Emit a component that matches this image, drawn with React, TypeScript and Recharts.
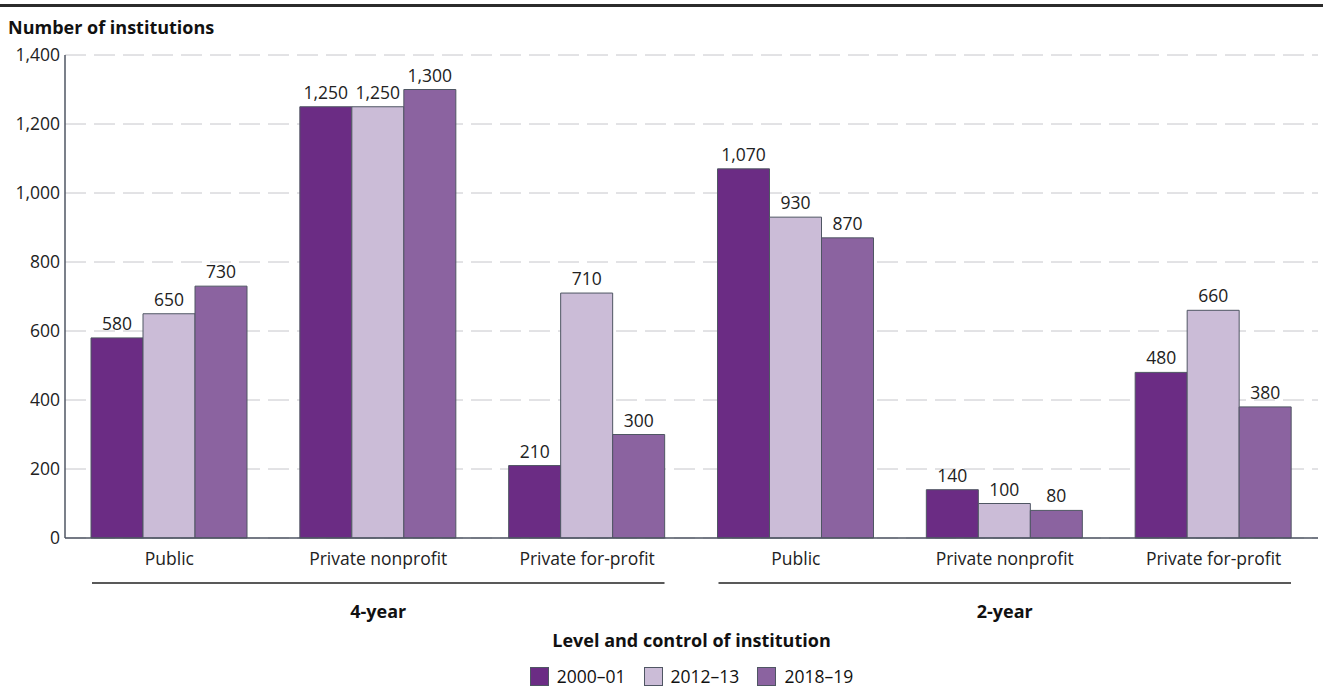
import React from 'react';
import { BarChart, Bar, XAxis, YAxis, CartesianGrid, Legend, LabelList } from 'recharts';

// Institutions by level and control, three academic years
const controls = ['Public', 'Private nonprofit', 'Private for-profit', 'Public', 'Private nonprofit', 'Private for-profit'];
const levels = ['4-year', '4-year', '4-year', '2-year', '2-year', '2-year'];
const y2000 = [580, 1250, 210, 1070, 140, 480];
const y2012 = [650, 1250, 710, 930, 100, 660];
const y2018 = [730, 1300, 300, 870, 80, 380];
const yTicks = [0, 200, 400, 600, 800, 1000, 1200, 1400];

const seriesInfo = [
  { key: 'y2000', name: '2000–01', color: '#6b2c84' },
  { key: 'y2012', name: '2012–13', color: '#cbbcd7' },
  { key: 'y2018', name: '2018–19', color: '#8b63a0' },
];

const data = controls.map((c, i) => ({
  control: c,
  level: levels[i],
  y2000: y2000[i],
  y2012: y2012[i],
  y2018: y2018[i],
}));

const W = 1323;
const H = 686;
const M = { top: 55, right: 5, bottom: 0, left: 0 };
const Y_AXIS_W = 65;
const CAT_GAP = 26;
const LEGEND_H = 20;
const FONT = '"Open Sans", sans-serif';
const FS = 17.5;
const STROKE = '#4f5663';

const plotW = W - M.left - M.right - Y_AXIS_W;
const groupHalf = plotW / 4 - CAT_GAP - 1;

const fmt = (v: any) => Number(v).toLocaleString('en-US');

const GroupTick = (props: any) => {
  const { x, y, payload } = props;
  return (
    <g>
      <line x1={x - groupHalf} x2={x + groupHalf} y1={y + 5} y2={y + 5} stroke="#222" strokeWidth={1.5} />
      <text x={x} y={y + 33} textAnchor="middle" dominantBaseline="central" fontFamily={FONT} fontSize={18} fontWeight={700} fill="#111">
        {payload.value}
      </text>
    </g>
  );
};

// axis title sits under the level labels
const AxisTitle = (props: any) => {
  const { viewBox } = props;
  return (
    <text x={viewBox.x + viewBox.width / 2} y={viewBox.y + 62} textAnchor="middle" dominantBaseline="central" fontFamily={FONT} fontSize={18} fontWeight={700} fill="#111">
      Level and control of institution
    </text>
  );
};

const LegendBox = () => (
  <div style={{ paddingLeft: M.left + Y_AXIS_W, paddingRight: M.right, fontFamily: FONT, color: '#111' }}>
    <div style={{ display: 'flex', justifyContent: 'center', alignItems: 'center', height: LEGEND_H }}>
      {seriesInfo.map((s) => (
        <div key={s.key} style={{ display: 'flex', alignItems: 'center', margin: '0 9px' }}>
          <span style={{ width: 19, height: 19, background: s.color, border: `1px solid ${STROKE}`, boxSizing: 'border-box', display: 'inline-block', marginRight: 8 }} />
          <span style={{ fontSize: FS }}>{s.name}</span>
        </div>
      ))}
    </div>
  </div>
);

export default function App() {
  return (
    <div style={{ position: 'relative', width: W, height: H, background: '#fff' }}>
      <style>{'body{margin:0}'}</style>
      <div style={{ position: 'absolute', left: 0, top: 4, width: W, height: 3, background: '#2b2b2b' }} />
      <div style={{ position: 'absolute', left: 8, top: 16, fontFamily: FONT, fontWeight: 700, fontSize: 18, color: '#111', lineHeight: '22px' }}>
        Number of institutions
      </div>
      <BarChart width={W} height={H} data={data} margin={M} barCategoryGap={CAT_GAP} barGap={0}>
        <CartesianGrid vertical={false} stroke="#c6c6cb" strokeDasharray="21 8" />
        <XAxis
          dataKey="control"
          height={40}
          tickLine={false}
          tickSize={0}
          tickMargin={15}
          axisLine={{ stroke: STROKE, strokeWidth: 1.5 }}
          tick={{ fontFamily: FONT, fontSize: FS, fill: '#222' }}
          interval={0}
        />
        <XAxis
          xAxisId="level"
          dataKey="level"
          allowDuplicatedCategory={false}
          height={88}
          axisLine={false}
          tickLine={false}
          tickSize={0}
          tickMargin={0}
          tick={<GroupTick />}
          interval={0}
          label={<AxisTitle />}
        />
        <YAxis
          width={Y_AXIS_W}
          domain={[0, 1400]}
          ticks={yTicks}
          tickFormatter={fmt}
          tickLine={false}
          tickSize={0}
          tickMargin={5}
          axisLine={{ stroke: STROKE, strokeWidth: 1.5 }}
          tick={{ fontFamily: FONT, fontSize: FS, fill: '#222' }}
        />
        <Legend
          verticalAlign="bottom"
          align="center"
          content={<LegendBox />}
          wrapperStyle={{ left: 0, width: W, height: LEGEND_H }}
        />
        {seriesInfo.map((s) => (
          <Bar key={s.key} dataKey={s.key} name={s.name} fill={s.color} stroke={STROKE} strokeWidth={1} isAnimationActive={false}>
            <LabelList dataKey={s.key} position="top" offset={8} formatter={fmt} style={{ fontFamily: FONT, fontSize: FS, fill: '#222' }} />
          </Bar>
        ))}
      </BarChart>
    </div>
  );
}
